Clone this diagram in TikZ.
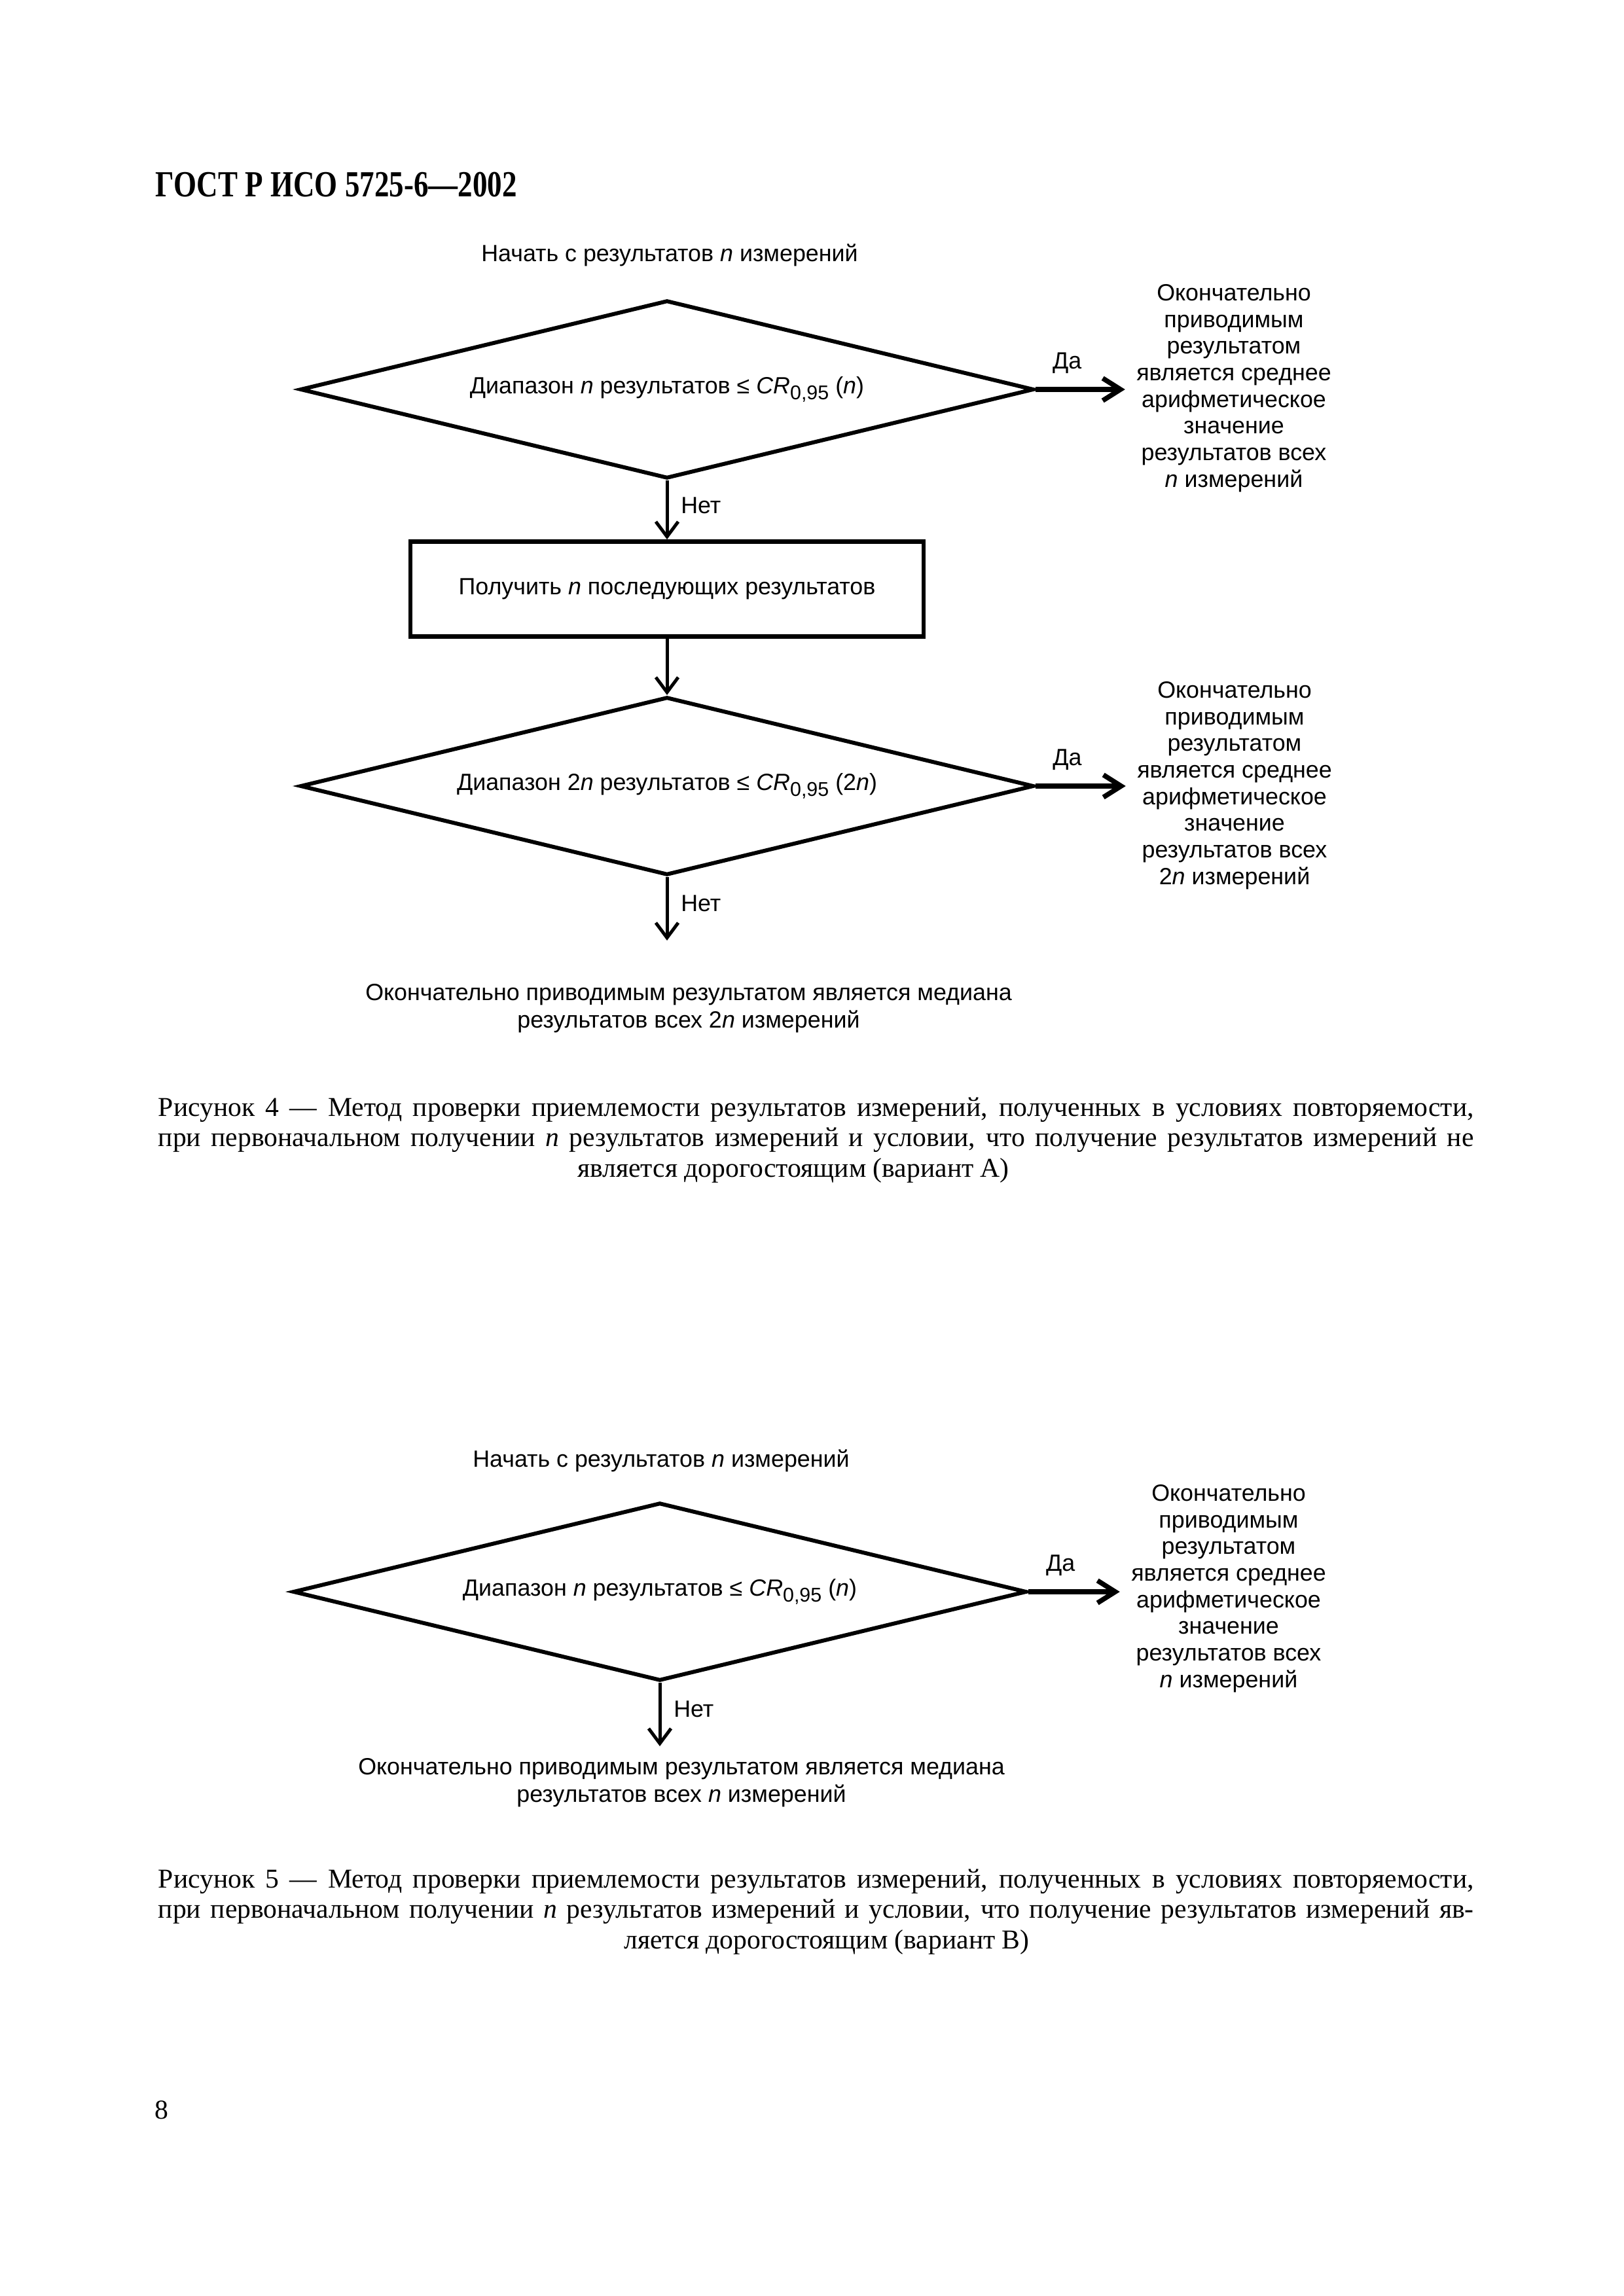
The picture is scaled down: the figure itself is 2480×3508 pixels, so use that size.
\documentclass[tikz,border=0pt]{standalone}
\usepackage{graphicx}
\usepackage{fontspec}
\setmainfont{Liberation Serif}
\setsansfont{Liberation Sans}
\usetikzlibrary{shapes.geometric,arrows.meta}
\newcommand\crsub[1]{\raisebox{-2pt}{\fontsize{7.3}{8}\selectfont #1}}
\begin{document}
\begin{tikzpicture}[x=0.24pt,y=-0.24pt,
  lab/.style={font=\sffamily\fontsize{8.6}{9.77}\selectfont, inner sep=0pt},
  dec/.style={diamond, draw, line width=1.45pt, shape aspect=4.12, minimum width=269pt, minimum height=65.3pt, inner sep=0pt, lab},
  procbox/.style={rectangle, draw, line width=1.6pt, minimum width=188.2pt, minimum height=34.8pt, lab},
  vflow/.style={line width=1.2pt, -{Straight Barb[length=5.5pt,width=8.2pt]}},
  hflow/.style={line width=1.8pt, -{Straight Barb[length=6.5pt,width=8.2pt]}},
  result/.style={lab, align=center, inner xsep=4pt, inner ysep=0pt},
  twoline/.style={lab, align=center, font=\sffamily\fontsize{8.6}{10.1}\selectfont},
  yeslab/.style={lab, pos=0.35, above=5pt},
  nolab/.style={lab, pos=0.42, right=4.5pt},
  captext/.style={font=\fontsize{10}{11}\selectfont, inner sep=0pt},
]
\fill[white] (0,0) rectangle (2480,3508);
\useasboundingbox (0,0) rectangle (2480,3508);

% header
\node[anchor=west, inner sep=0pt] (hdr) at (237,282)
  {\fontsize{13.5}{16}\selectfont\bfseries\scalebox{0.8}[1]{ГОСТ Р ИСО 5725-6—2002}};

% ---------- Figure 4 ----------
\node[lab] (s1) at (1023,390) {Начать с результатов \textit{n} измерений};
\node[dec] (d1) at (1019,595) {Диапазон \textit{n} результатов ≤ \textit{CR}\crsub{0,95} (\textit{n})};
\node[result] (r1) at (1885,593) {Окончательно\\приводимым\\результатом\\является среднее\\арифметическое\\значение\\результатов всех\\\textit{n} измерений};
\node[procbox] (b1) at (1019,900) {Получить \textit{n} последующих результатов};
\node[dec] (d2) at (1019,1201) {Диапазон 2\textit{n} результатов ≤ \textit{CR}\crsub{0,95} (2\textit{n})};
\node[result] (r2) at (1886,1200) {Окончательно\\приводимым\\результатом\\является среднее\\арифметическое\\значение\\результатов всех\\2\textit{n} измерений};
\coordinate (e2) at (1019,1437);
\node[twoline] (b2) at (1052,1541) {Окончательно приводимым результатом является медиана\\результатов всех 2\textit{n} измерений};

\draw[hflow] (d1.east) -- (d1.east -| r1.west) node[yeslab] {Да};
\draw[vflow] (d1.south) -- (b1.north) node[nolab] {Нет};
\draw[vflow] (b1.south) -- (d2.north);
\draw[hflow] (d2.east) -- (d2.east -| r2.west) node[yeslab] {Да};
\draw[vflow] (d2.south) -- (e2) node[nolab] {Нет};

\node[captext, anchor=west] (c4a) at (241,1696) {\makebox[482.4pt][s]{Рисунок 4 — Метод проверки приемлемости результатов измерений, полученных в условиях повторяемости,}};
\node[captext, anchor=west] (c4b) at (241,1742) {\makebox[482.4pt][s]{при первоначальном получении \textit{n} результатов измерений и условии, что получение результатов измерений не}};
\node[captext] (c4c) at (1212,1788) {является дорогостоящим (вариант А)};

% ---------- Figure 5 ----------
\node[lab] (s2) at (1010,2232) {Начать с результатов \textit{n} измерений};
\node[dec] (d3) at (1008,2432) {Диапазон \textit{n} результатов ≤ \textit{CR}\crsub{0,95} (\textit{n})};
\node[result] (r3) at (1877,2427) {Окончательно\\приводимым\\результатом\\является среднее\\арифметическое\\значение\\результатов всех\\\textit{n} измерений};
\coordinate (e3) at (1008,2668);
\node[twoline] (b3) at (1041,2724) {Окончательно приводимым результатом является медиана\\результатов всех \textit{n} измерений};

\draw[hflow] (d3.east) -- (d3.east -| r3.west) node[yeslab] {Да};
\draw[vflow] (d3.south) -- (e3) node[nolab] {Нет};

\node[captext, anchor=west] (c5a) at (241,2875) {\makebox[482.4pt][s]{Рисунок 5 — Метод проверки приемлемости результатов измерений, полученных в условиях повторяемости,}};
\node[captext, anchor=west] (c5b) at (241,2921) {\makebox[482.4pt][s]{при первоначальном получении \textit{n} результатов измерений и условии, что получение результатов измерений яв-}};
\node[captext] (c5c) at (1263,2967) {ляется дорогостоящим (вариант В)};

% page number
\node[captext] (pg) at (247,3224) {8};
\end{tikzpicture}
\end{document}
